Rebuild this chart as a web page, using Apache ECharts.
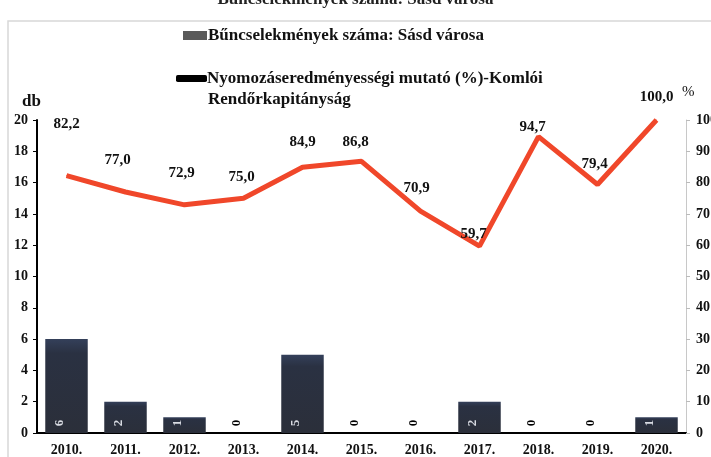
<!DOCTYPE html>
<html>
<head>
<meta charset="utf-8">
<script src="https://cdn.jsdelivr.net/npm/echarts@6/dist/echarts.min.js"></script>
<style>
  html, body { margin: 0; padding: 0; background: #fff; }
  #chart { width: 711px; height: 457px; }
</style>
</head>
<body>
<div id="chart"></div>
<script>
const years = ['2010.', '2011.', '2012.', '2013.', '2014.', '2015.', '2016.', '2017.', '2018.', '2019.', '2020.']
const crimeCounts = [6, 2, 1, 0, 5, 0, 0, 2, 0, 0, 1]
const clearanceRate = [82.2, 77.0, 72.9, 75.0, 84.9, 86.8, 70.9, 59.7, 94.7, 79.4, 100.0]
const leftTicks = [0, 2, 4, 6, 8, 10, 12, 14, 16, 18, 20]
const rightTicks = [0, 10, 20, 30, 40, 50, 60, 70, 80, 90, 100]

const barName = 'Bűncselekmények száma: Sásd városa'
const lineName = 'Nyomozáseredményességi mutató (%)-Komlói\nRendőrkapitányság'

// nudges for the percentage labels [dx, dy] in px
const labelNudge = [[0, -38], [-8, -18], [-3, -18], [-2, -7], [0, -11], [-6, -5],
  [-4, -9], [-6, 2], [-6, 5], [-3, -6], [0, -9]]

const font = '"Liberation Serif", "DejaVu Serif", serif'

const chart = echarts.init(document.getElementById('chart'))

const option = {
  backgroundColor: '#fff',
  textStyle: { fontFamily: font },
  animation: false,
  title: {
    text: barName,
    left: 'center',
    top: -14,
    textStyle: { fontFamily: font, fontSize: 17, fontWeight: 'bold', color: '#222' }
  },
  graphic: [
    {
      type: 'rect',
      shape: { x: 8, y: 21, width: 720, height: 450 },
      style: { fill: 'none', stroke: '#d8d8d8', lineWidth: 1.5 },
      silent: true
    },
    {
      // second line of the line series' legend entry
      type: 'text',
      left: 208,
      top: 91,
      silent: true,
      style: {
        text: lineName.split('\n')[1],
        font: 'bold 17px ' + font,
        fill: '#111'
      }
    }
  ],
  legend: [
    {
      data: [{ name: barName, itemStyle: { color: '#5a5a5a' } }],
      left: 178,
      top: 22,
      itemWidth: 24,
      itemHeight: 9,
      icon: 'rect',
      textStyle: { fontFamily: font, fontSize: 17, fontWeight: 'bold', color: '#111', padding: [0, 0, 0, -4] }
    },
    {
      data: [{ name: lineName, itemStyle: { color: '#000' }, lineStyle: { color: '#000', width: 6 } }],
      formatter: name => name.split('\n')[0],
      left: 171,
      top: 65,
      itemWidth: 31,
      itemHeight: 7,
      icon: 'roundRect',
      textStyle: { fontFamily: font, fontSize: 17, fontWeight: 'bold', color: '#111', padding: [0, 0, 0, -5] }
    }
  ],
  grid: { left: 37, right: 25, top: 120, bottom: 24, outerBoundsMode: 'none' },
  xAxis: {
    type: 'category',
    data: years,
    axisLine: { lineStyle: { color: '#000', width: 2 } },
    axisTick: { show: false },
    axisLabel: { fontFamily: font, fontWeight: 'bold', fontSize: 14, color: '#111', margin: 10 }
  },
  yAxis: [
    {
      type: 'value',
      name: 'db',
      nameLocation: 'end',
      nameGap: 10,
      nameTextStyle: { fontFamily: font, fontSize: 17, fontWeight: 'bold', color: '#111', align: 'right', padding: [0, -4, 0, 0] },
      min: leftTicks[0],
      max: leftTicks[leftTicks.length - 1],
      interval: 2,
      axisLine: { show: true, lineStyle: { color: '#000', width: 2 } },
      axisTick: { show: true, length: 4, lineStyle: { color: '#000' } },
      axisLabel: { fontFamily: font, fontWeight: 'bold', fontSize: 14, color: '#111', margin: 9 },
      splitLine: { show: false }
    },
    {
      type: 'value',
      name: '%',
      nameLocation: 'end',
      nameGap: 20,
      nameTextStyle: { fontFamily: font, fontSize: 15, color: '#111', align: 'left', padding: [0, 0, 0, -4] },
      min: rightTicks[0],
      max: rightTicks[rightTicks.length - 1],
      interval: 10,
      position: 'right',
      axisLine: { show: true, lineStyle: { color: '#c8c8c8', width: 1 } },
      axisTick: { show: true, length: 4, lineStyle: { color: '#bbb' } },
      axisLabel: { fontFamily: font, fontWeight: 'bold', fontSize: 14, color: '#111', margin: 10 },
      splitLine: { show: false }
    }
  ],
  series: [
    {
      name: barName,
      type: 'bar',
      yAxisIndex: 0,
      barWidth: '72%',
      data: crimeCounts.map(v => ({
        value: v,
        label: { color: v ? '#d8dbe2' : '#000' }
      })),
      itemStyle: {
        color: new echarts.graphic.LinearGradient(0, 0, 0, 1, [
          { offset: 0, color: '#34405a' },
          { offset: 0.15, color: '#2a3142' },
          { offset: 1, color: '#2b2f3a' }
        ])
      },
      label: {
        show: true,
        position: 'insideBottom',
        distance: 10,
        rotate: 90,
        fontFamily: font,
        fontWeight: 'bold',
        fontSize: 13
      }
    },
    {
      name: lineName,
      type: 'line',
      yAxisIndex: 1,
      data: clearanceRate.map((v, i) => ({
        value: v,
        label: { offset: labelNudge[i] }
      })),
      symbol: 'circle',
      symbolSize: 1,
      showSymbol: true,
      lineStyle: { color: '#f0472a', width: 5 },
      itemStyle: { color: '#f0472a' },
      label: {
        show: true,
        position: 'top',
        distance: 6,
        fontFamily: font,
        fontWeight: 'bold',
        fontSize: 15,
        color: '#111',
        formatter: p => p.value.toFixed(1).replace('.', ',')
      }
    }
  ]
}

chart.setOption(option)
</script>
</body>
</html>
